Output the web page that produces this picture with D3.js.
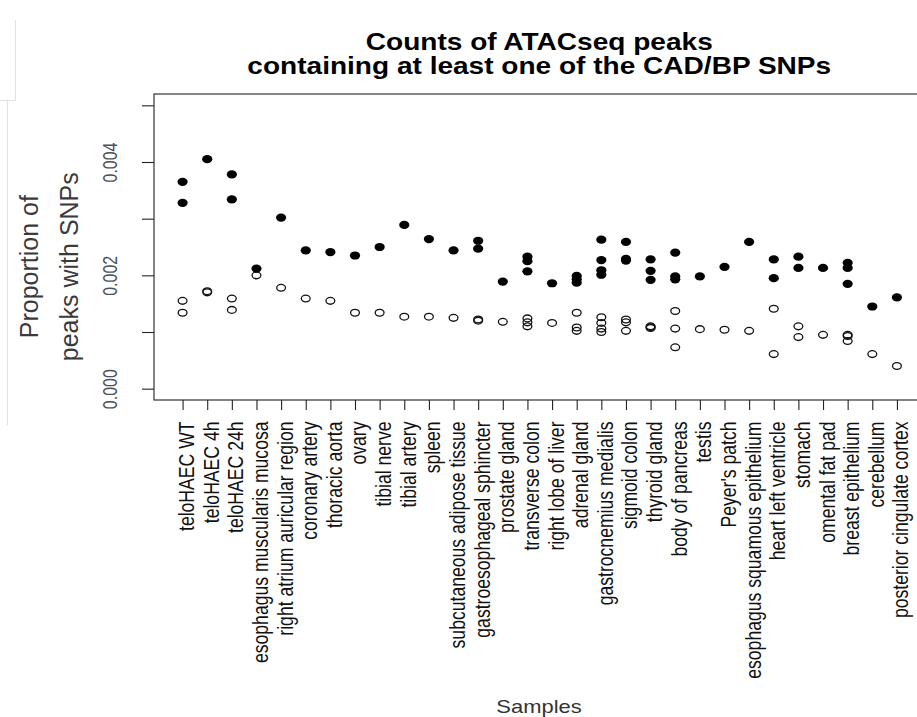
<!DOCTYPE html>
<html>
<head>
<meta charset="utf-8">
<script src="https://cdn.jsdelivr.net/npm/d3@7"></script>
<style>
  html, body { margin: 0; padding: 0; background: #fff; }
  svg { display: block; font-family: "Liberation Sans", Arial, Helvetica, sans-serif; }
</style>
</head>
<body>
<svg id="chart" width="917" height="717"></svg>
<script>
// ---- data ----
const categories = [
  "teloHAEC WT", "teloHAEC 4h", "teloHAEC 24h", "esophagus muscularis mucosa",
  "right atrium auricular region", "coronary artery", "thoracic aorta", "ovary",
  "tibial nerve", "tibial artery", "spleen", "subcutaneous adipose tissue",
  "gastroesophageal sphincter", "prostate gland", "transverse colon", "right lobe of liver",
  "adrenal gland", "gastrocnemius medialis", "sigmoid colon", "thyroid gland",
  "body of pancreas", "testis", "Peyer's patch", "esophagus squamous epithelium",
  "heart left ventricle", "stomach", "omental fat pad", "breast epithelium",
  "cerebellum", "posterior cingulate cortex"
];
// filled points (values x 0.001)
const filledValues = [
  [3.65, 3.28], [4.05], [3.78, 3.34], [2.12], [3.02], [2.44], [2.41], [2.35],
  [2.50], [2.89], [2.64], [2.44], [2.61, 2.47], [1.89], [2.33, 2.25, 2.07], [1.86],
  [1.99, 1.93, 1.87], [2.63, 2.27, 2.09, 2.01], [2.59, 2.29, 2.26], [2.28, 2.08, 1.92],
  [2.40, 1.98, 1.93], [1.98], [2.15], [2.59], [2.28, 1.95], [2.33, 2.13], [2.13],
  [2.22, 2.13, 1.85], [1.45], [1.61]
];
// open points (values x 0.001)
const openValues = [
  [1.55, 1.34], [1.72, 1.70], [1.59, 1.39], [2.00], [1.78], [1.59], [1.55], [1.34],
  [1.34], [1.27], [1.27], [1.25], [1.22, 1.20], [1.18], [1.24, 1.17, 1.10], [1.16],
  [1.34, 1.08, 1.02], [1.26, 1.16, 1.06, 1.00], [1.22, 1.17, 1.02], [1.10, 1.085, 1.07],
  [1.37, 1.06, 0.73], [1.05], [1.04], [1.02], [1.41, 0.61], [1.10, 0.91], [0.95],
  [0.95, 0.93, 0.84], [0.61], [0.40]
];
const yTicks = [0, 0.001, 0.002, 0.003, 0.004, 0.005];
const yTickLabels = [0, 0.002, 0.004];
const titleLines = ["Counts of ATACseq peaks", "containing at least one of the CAD/BP SNPs"];
const yLabelLines = ["Proportion of", "peaks with SNPs"];
const xLabel = "Samples";

// ---- layout ----
const SX = 1.22; // horizontal stretch of the original image
const svg = d3.select("#chart");
svg.append("rect").attr("width", 917).attr("height", 717).attr("fill", "#fff");

const n = categories.length;
const pad = (n - 1) * 0.04;
const x = d3.scaleLinear().domain([1 - pad, n + pad]).range([154, 925.5]);
const yPad = 0.005 * 0.04;
const y = d3.scaleLinear().domain([-yPad, 0.005 + yPad]).range([400, 94]);

// faint frame artifacts on left
const faint = svg.append("g").attr("stroke", "#e2e2e2").attr("stroke-width", 1).attr("fill", "none");
faint.append("path").attr("d", "M7.5,101 V425");
faint.append("path").attr("d", "M0,100.5 H15.5 V20");

// box
svg.append("rect")
  .attr("x", x.range()[0]).attr("y", y.range()[1])
  .attr("width", x.range()[1] - x.range()[0])
  .attr("height", y.range()[0] - y.range()[1])
  .attr("fill", "none").attr("stroke", "#333").attr("stroke-width", 1.2);

// x axis
const xAxis = d3.axisBottom(x)
  .tickValues(d3.range(1, n + 1))
  .tickFormat(i => categories[i - 1])
  .tickSize(10).tickSizeOuter(0);
const gx = svg.append("g").attr("transform", `translate(0,${y.range()[0]})`).call(xAxis);
gx.select(".domain").remove();
gx.selectAll(".tick line").attr("stroke", "#222").attr("stroke-width", 1.1);
gx.selectAll(".tick text")
  .attr("x", 0).attr("y", 9).attr("dy", null)
  .attr("transform", `translate(0,21.5) scale(${SX},1) rotate(-90)`)
  .attr("text-anchor", "end")
  .attr("font-size", 17.6)
  .attr("font-family", "'Liberation Sans', Arial, sans-serif")
  .attr("fill", "#111");

// y axis
const yAxis = d3.axisLeft(y)
  .tickValues(yTicks)
  .tickFormat(v => yTickLabels.some(l => Math.abs(l - v) < 1e-9) ? d3.format(".3f")(v) : "")
  .tickSize(12).tickSizeOuter(0);
const gy = svg.append("g").attr("transform", `translate(${x.range()[0]},0)`).call(yAxis);
gy.select(".domain").remove();
gy.selectAll(".tick line").attr("stroke", "#222").attr("stroke-width", 1.1);
gy.selectAll(".tick text")
  .attr("x", 0).attr("y", -30).attr("dy", null)
  .attr("transform", `scale(${SX},1) rotate(-90)`)
  .attr("text-anchor", "middle")
  .attr("font-size", 16)
  .attr("font-family", "'Liberation Sans', Arial, sans-serif")
  .attr("fill", "#4a5260");

// points
const filledPts = [];
filledValues.forEach((vals, i) => vals.forEach(v => filledPts.push({ i: i + 1, v: v / 1000 })));
const openPts = [];
openValues.forEach((vals, i) => vals.forEach(v => openPts.push({ i: i + 1, v: v / 1000 })));

svg.append("g").selectAll("ellipse").data(openPts).join("ellipse")
  .attr("cx", d => x(d.i)).attr("cy", d => y(d.v))
  .attr("rx", 4.4).attr("ry", 3.4)
  .attr("fill", "none").attr("stroke", "#111").attr("stroke-width", 1.3);

svg.append("g").selectAll("ellipse").data(filledPts).join("ellipse")
  .attr("cx", d => x(d.i)).attr("cy", d => y(d.v))
  .attr("rx", 5.1).attr("ry", 4.1)
  .attr("fill", "#000");

// title
const cx = (x.range()[0] + x.range()[1]) / 2;
titleLines.forEach((t, k) => {
  svg.append("text")
    .attr("transform", `translate(${cx - 0.5},${50 + k * 24}) scale(${SX},1)`)
    .attr("text-anchor", "middle")
    .attr("font-size", 23).attr("font-weight", "bold")
    .attr("fill", "#000")
    .text(t);
});

// y label
yLabelLines.forEach((t, k) => {
  svg.append("text")
    .attr("transform", `translate(${38 + k * 40},266.7) rotate(-90)`)
    .attr("text-anchor", "middle")
    .attr("font-size", 25)
    .attr("fill", "#3a3a3a")
    .text(t);
});

// x label
svg.append("text")
  .attr("transform", `translate(539,713) scale(${SX},1)`)
  .attr("text-anchor", "middle")
  .attr("font-size", 18)
  .attr("fill", "#333")
  .text(xLabel);
</script>
</body>
</html>
